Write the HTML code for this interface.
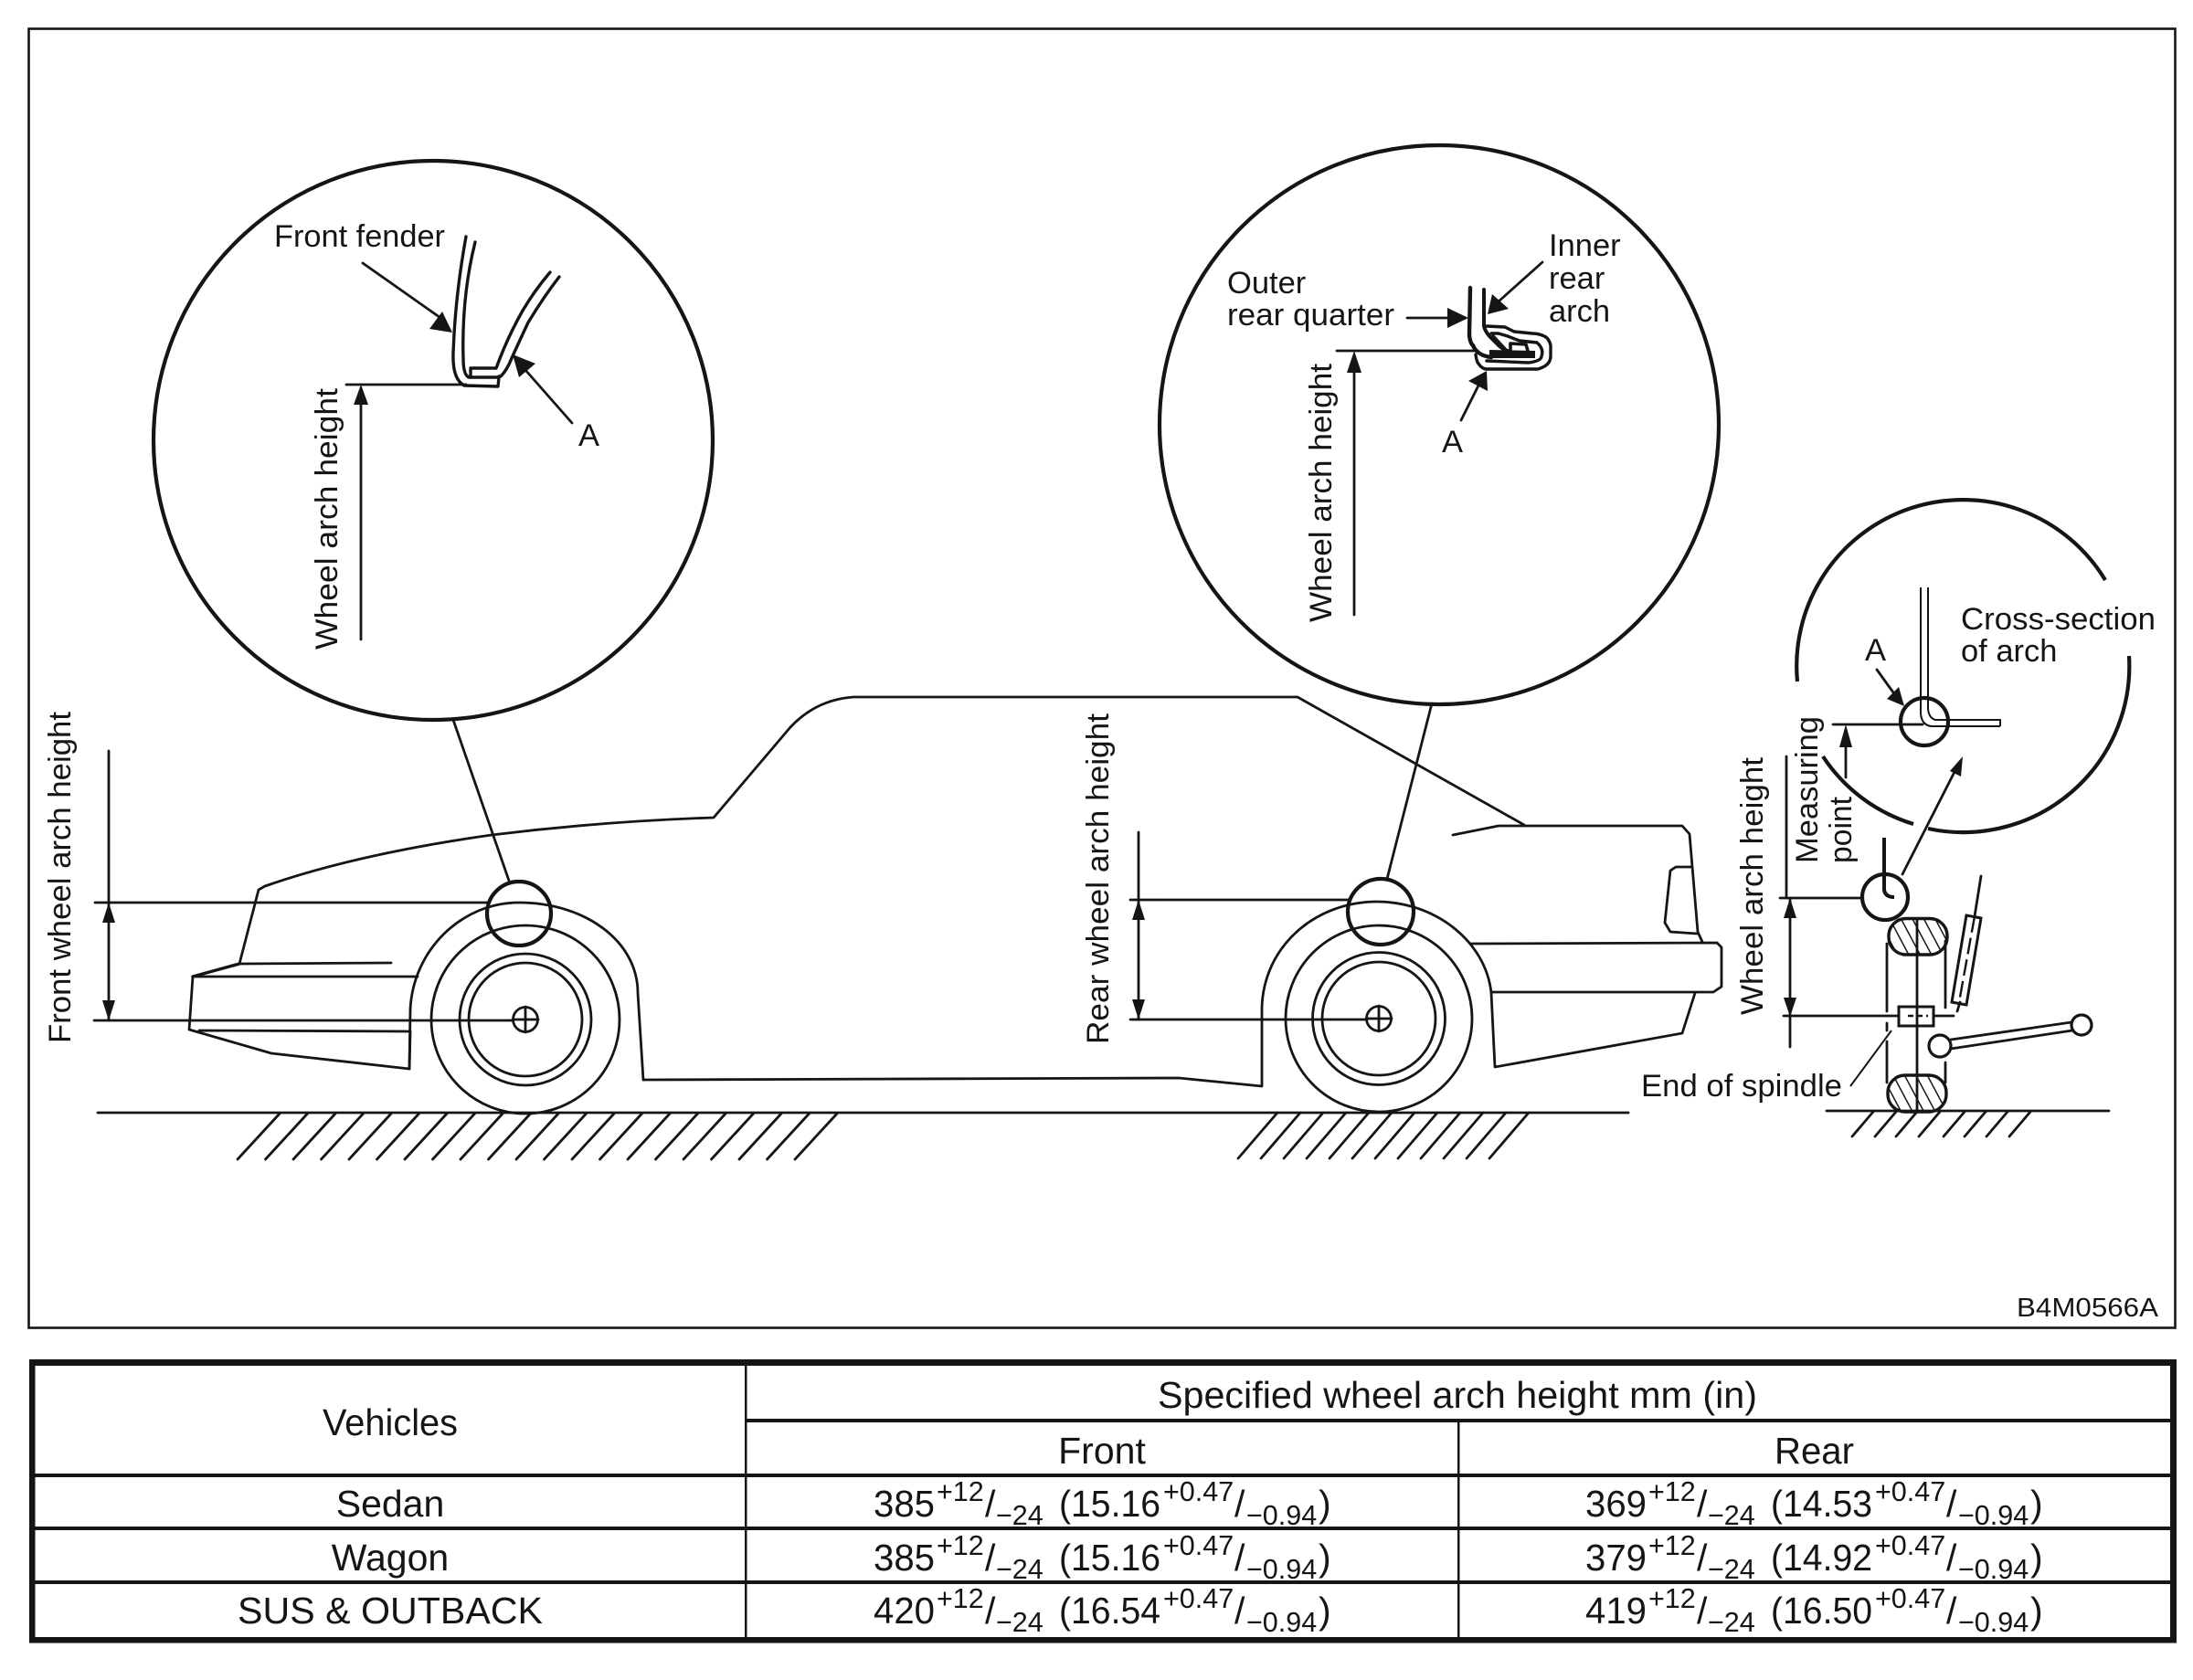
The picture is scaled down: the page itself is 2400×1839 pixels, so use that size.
<!DOCTYPE html>
<html>
<head>
<meta charset="utf-8">
<style>
html,body{margin:0;padding:0;background:#fff;}
svg{display:block;}
text{font-family:"Liberation Sans",sans-serif;fill:#151515;}
.l{fill:none;stroke:#151515;stroke-width:2.8;stroke-linecap:round;stroke-linejoin:round;}
.t{fill:none;stroke:#151515;stroke-width:2;}
.c{fill:none;stroke:#151515;stroke-width:4.2;}
.k{fill:none;stroke:#151515;stroke-width:3.4;stroke-linejoin:round;stroke-linecap:round;}
.f{fill:#151515;stroke:none;}
.m{font-size:41px;}
.s{font-size:30.5px;}
.g{font-size:34.5px;}
</style>
</head>
<body>
<svg width="2400" height="1839" viewBox="0 0 2400 1839" xmlns="http://www.w3.org/2000/svg">
<defs>
<pattern id="h" width="11" height="11" patternUnits="userSpaceOnUse" patternTransform="rotate(-28)">
<line x1="0" y1="0" x2="0" y2="11" stroke="#151515" stroke-width="3"/>
</pattern>
</defs>
<rect width="2400" height="1839" fill="#fff"/>
<rect x="31.5" y="31.5" width="2349" height="1422" fill="none" stroke="#151515" stroke-width="2.6"/>

<!-- big circles -->
<circle cx="474" cy="482" r="306" class="c"/>
<circle cx="1575" cy="465" r="306" class="c"/>
<!-- broken circle -->
<path class="c" d="M1967 746A182 182 0 0 1 2304 635"/>
<path class="c" d="M2330 718A182 182 0 0 1 2110 907"/>
<path class="c" d="M2094 902A182 182 0 0 1 1995 828"/>

<!-- ground -->
<line x1="107" y1="1218" x2="1782" y2="1218" class="l"/>
<path class="l" d="M260 1269l46-50m-15.5 50l46-50m-15.5 50l46-50m-15.5 50l46-50m-15.5 50l46-50m-15.5 50l46-50m-15.5 50l46-50m-15.5 50l46-50m-15.5 50l46-50m-15.5 50l46-50m-15.5 50l46-50m-15.5 50l46-50m-15.5 50l46-50m-15.5 50l46-50m-15.5 50l46-50m-15.5 50l46-50m-15.5 50l46-50m-15.5 50l46-50m-15.5 50l46-50m-15.5 50l46-50m-15.5 50l46-50"/>
<path class="l" d="M1355 1268l43-50m-18 50l43-50m-18 50l43-50m-18 50l43-50m-18 50l43-50m-18 50l43-50m-18 50l43-50m-18 50l43-50m-18 50l43-50m-18 50l43-50m-18 50l43-50m-18 50l43-50"/>

<!-- car body -->
<path class="l" d="M262 1055L283 974L290 970Q390 935 538 914Q660 899 781 895L865 796Q893 766 934 763L1420 763L1668 903"/>
<path class="l" d="M1590 914L1640 904L1841 904L1849 913L1858 1020L1863 1031"/>
<path class="l" d="M1851 949L1834 949L1828 953L1822 1010L1828 1020L1857 1022"/>
<path class="l" d="M1610 1033L1879 1032L1884 1037L1884 1080L1875 1086L1632 1086"/>
<path class="l" d="M1855 1087L1841 1131L1636 1168L1632 1087"/>
<path class="l" d="M704 1182L1290 1180L1381 1189L1381 1103C1383 1035 1440 987 1507 987C1570 987 1626 1030 1632 1087"/>
<path class="l" d="M211 1069L457 1069"/>
<path class="k" d="M211 1069L262 1055"/>
<path class="l" d="M262 1055L428 1054"/>
<path class="l" d="M211 1069L207 1127L297 1153L448 1170L449 1129L218 1128"/>
<path class="l" d="M448 1170L449 1105C452 1040 505 988 568 988C640 988 698 1030 698 1087L704 1182"/>

<!-- wheels -->
<g class="l">
<circle cx="575" cy="1116" r="103"/>
<circle cx="575" cy="1116" r="72"/>
<circle cx="575" cy="1116" r="62"/>
<circle cx="575" cy="1116" r="13.5"/>
<circle cx="1509" cy="1115" r="102"/>
<circle cx="1509" cy="1115" r="72.5"/>
<circle cx="1509" cy="1115" r="62"/>
<circle cx="1509" cy="1115" r="13.5"/>
</g>
<path class="l" d="M575 1102V1130M561 1116H589M1509 1101V1129M1495 1115H1523"/>
<circle cx="568" cy="1000" r="35" class="c"/>
<circle cx="1511" cy="998" r="36" class="c"/>
<line x1="496" y1="788" x2="557" y2="964" class="l"/>
<line x1="1567" y1="770" x2="1518" y2="962" class="l"/>

<!-- front dim -->
<line x1="104" y1="988" x2="534" y2="988" class="l"/>
<line x1="103" y1="1117" x2="561" y2="1117" class="l"/>
<line x1="119" y1="822" x2="119" y2="1117" class="l"/>
<path class="f" d="M119 988l-7 22h14zM119 1117l-7-22h14z"/>
<text class="g" transform="translate(77,1142) rotate(-90)" textLength="363" lengthAdjust="spacingAndGlyphs">Front wheel arch height</text>

<!-- rear dim -->
<line x1="1237" y1="985" x2="1477" y2="985" class="l"/>
<line x1="1237" y1="1116" x2="1496" y2="1116" class="l"/>
<line x1="1246" y1="911" x2="1246" y2="1116" class="l"/>
<path class="f" d="M1246 985l-7 22h14zM1246 1116l-7-22h14z"/>
<text class="g" transform="translate(1213,1143) rotate(-90)" textLength="362" lengthAdjust="spacingAndGlyphs">Rear wheel arch height</text>

<!-- circle 1 content -->
<text class="g" x="300" y="270" textLength="187" lengthAdjust="spacingAndGlyphs">Front fender</text>
<text class="g" x="633" y="488">A</text>
<text class="g" transform="translate(369,711) rotate(-90)" textLength="286" lengthAdjust="spacingAndGlyphs">Wheel arch height</text>
<line x1="379" y1="421" x2="510" y2="421" class="l"/>
<line x1="395" y1="700" x2="395" y2="425" class="l"/>
<path class="f" d="M395 421l-8 22h16z"/>
<path class="k" d="M510 259Q498 325 496 387Q495 415 508 422L545 423L546 413L513 413Q507 410 507 393Q505 325 520 265"/>
<path class="k" d="M515 413V403L543 403Q555 370 572 340Q585 318 602 298"/>
<path class="k" d="M546 412L548 412Q555 405 560 392Q570 370 578 353Q595 325 612 303"/>
<line x1="397" y1="288" x2="485" y2="350" class="l"/>
<path class="f" d="M495 364L484 341L470 360Z"/>
<line x1="626" y1="463" x2="575" y2="405" class="l"/>
<path class="f" d="M561 388L586 398L568 413Z"/>

<!-- circle 2 content -->
<text class="g" x="1343" y="321">Outer</text>
<text class="g" x="1343" y="356" textLength="183" lengthAdjust="spacingAndGlyphs">rear quarter</text>
<text class="g" x="1695" y="280">Inner</text>
<text class="g" x="1695" y="316">rear</text>
<text class="g" x="1695" y="352">arch</text>
<text class="g" x="1578" y="495">A</text>
<text class="g" transform="translate(1457,681) rotate(-90)" textLength="283" lengthAdjust="spacingAndGlyphs">Wheel arch height</text>
<line x1="1463" y1="384" x2="1613" y2="384" class="l"/>
<line x1="1482" y1="673" x2="1482" y2="390" class="l"/>
<path class="f" d="M1482 384l-8 24h16z"/>
<line x1="1540" y1="348" x2="1590" y2="348" class="l"/>
<path class="f" d="M1607 348l-23-11v22z"/>
<line x1="1688" y1="287" x2="1640" y2="330" class="l"/>
<path class="f" d="M1628 344L1633 322L1651 338Z"/>
<line x1="1599" y1="460" x2="1618" y2="422" class="l"/>
<path class="f" d="M1627 406L1607 417L1628 428Z"/>
<path class="k" style="stroke-width:4.4" d="M1609 315L1608 367Q1609 376 1612 378Q1614 383 1617 385Q1622 390 1632 391"/>
<path class="k" d="M1615 388Q1616 396 1618 398Q1622 404 1627 404L1683 404Q1697 400 1697 390L1697 378Q1695 370 1690 368Q1684 365 1677 365L1657 363L1647 358L1627 357"/>
<path class="k" style="stroke-width:4" d="M1624 317V357Q1625 362 1630 368L1640 378Q1644 382 1650 384"/>
<path class="k" d="M1627 395L1673 397Q1687 395 1687 390Q1690 382 1682 375L1663 373L1650 368L1640 365L1632 365"/>
<path class="f" d="M1630 383L1680 384L1680 392L1630 392Z"/>
<path class="k" style="stroke-width:3.6" d="M1634 368L1647 382M1653 383L1653 376L1670 377L1672 384"/>

<!-- right detail -->
<text class="g" x="2146" y="689" textLength="213" lengthAdjust="spacingAndGlyphs">Cross-section</text>
<text class="g" x="2146" y="724">of arch</text>
<text class="g" x="2041" y="723">A</text>
<text class="g" transform="translate(1989,945) rotate(-90)" textLength="161" lengthAdjust="spacingAndGlyphs">Measuring</text>
<text class="g" transform="translate(2026,945) rotate(-90)" textLength="73" lengthAdjust="spacingAndGlyphs">point</text>
<text class="g" transform="translate(1929,1111) rotate(-90)" textLength="282" lengthAdjust="spacingAndGlyphs">Wheel arch height</text>
<text class="g" x="1796" y="1200" textLength="220" lengthAdjust="spacingAndGlyphs">End of spindle</text>
<path class="t" d="M2102 643V781Q2103 794 2114 795L2189 795M2110 643V776Q2111 786 2118 788L2189 788L2189 795"/>
<circle cx="2106" cy="790" r="26" class="c"/>
<line x1="2006" y1="793" x2="2104" y2="793" class="l"/>
<line x1="2020" y1="851" x2="2020" y2="800" class="l"/>
<path class="f" d="M2020 793l-7 25h14z"/>
<line x1="2054" y1="733" x2="2072" y2="758" class="l"/>
<path class="f" d="M2084 773L2078 752L2065 765Z"/>
<line x1="1955" y1="828" x2="1955" y2="983" class="l"/>
<line x1="1948" y1="983" x2="2038" y2="983" class="l"/>
<line x1="1959" y1="985" x2="1959" y2="1146" class="l"/>
<path class="f" d="M1959 983l-7 22h14zM1959 1113l-7-21h14z"/>
<circle cx="2063" cy="982" r="25" style="fill:none;stroke:#151515;stroke-width:4.2"/>
<path d="M2062 917V974Q2063 982 2073 982" fill="none" stroke="#151515" stroke-width="4"/>
<line x1="2082" y1="957" x2="2140" y2="843" class="l"/>
<path class="f" d="M2148 828L2134 844L2146 850Z"/>

<!-- tyre & suspension -->
<line x1="1952" y1="1112" x2="2138" y2="1112" class="l"/>
<rect x="2078" y="1102" width="38" height="21" fill="#fff" stroke="#151515" stroke-width="3"/>
<line x1="2088" y1="1112" x2="2110" y2="1112" stroke="#151515" stroke-width="2.6" stroke-dasharray="6 4"/>
<rect x="2067" y="1005.5" width="64" height="39.5" rx="19" fill="url(#h)" stroke="#151515" stroke-width="3.4"/>
<rect x="2066" y="1177" width="64" height="40" rx="19" fill="url(#h)" stroke="#151515" stroke-width="3.4"/>
<line x1="2098" y1="1005" x2="2098" y2="1217" stroke="#151515" stroke-width="2.8"/>
<path class="l" d="M2065 1033V1107M2065 1120V1128M2065 1140V1185"/>
<path class="l" d="M2129 1030V1103M2129 1163V1185"/>
<path d="M2152 1002L2168 1005L2152 1100L2136 1097Z" fill="#fff" stroke="#151515" stroke-width="3"/>
<path class="l" d="M2168 959L2161 1003"/>
<line x1="2161" y1="1003" x2="2144" y2="1097" stroke="#151515" stroke-width="2.4" stroke-dasharray="18 6"/>
<line x1="2145" y1="1097" x2="2142" y2="1107" class="l"/>
<circle cx="2123" cy="1145" r="12" fill="#fff" stroke="#151515" stroke-width="3.2"/>
<circle cx="2278" cy="1122" r="11" fill="#fff" stroke="#151515" stroke-width="3.2"/>
<path class="l" d="M2135 1138L2267 1119M2135 1148L2268 1128"/>
<line x1="2025" y1="1189" x2="2070" y2="1128" class="t"/>
<line x1="1999" y1="1216" x2="2308" y2="1216" class="l"/>
<path class="l" d="M2027 1244L2050 1217M2052 1244L2075 1217M2075 1244L2098 1217M2100 1244L2123 1217M2127 1244L2150 1217M2150 1244L2173 1217M2174 1244L2197 1217M2199 1244L2222 1217"/>
<text x="2207" y="1441" font-size="29" textLength="155" lengthAdjust="spacingAndGlyphs">B4M0566A</text>

<!-- table -->
<g fill="#151515">
<rect x="32" y="1488" width="2350" height="7"/>
<rect x="32" y="1792" width="2350" height="6.5"/>
<rect x="32" y="1488" width="6.5" height="310"/>
<rect x="2375" y="1488" width="7" height="310"/>
<rect x="816" y="1553" width="1560" height="4"/>
<rect x="38" y="1613" width="2338" height="4"/>
<rect x="38" y="1671" width="2338" height="4"/>
<rect x="38" y="1730" width="2338" height="4"/>
<rect x="815" y="1495" width="2.5" height="298"/>
<rect x="1595" y="1555" width="2.5" height="238"/>
</g>
<g class="m">
<text x="353" y="1571" textLength="148" lengthAdjust="spacingAndGlyphs">Vehicles</text>
<text x="1267" y="1541" textLength="656" lengthAdjust="spacingAndGlyphs">Specified wheel arch height mm (in)</text>
<text x="1206" y="1602" text-anchor="middle">Front</text>
<text x="1942" y="1602" textLength="87" lengthAdjust="spacingAndGlyphs">Rear</text>
<text x="427" y="1660" text-anchor="middle">Sedan</text>
<text x="427" y="1719" text-anchor="middle">Wagon</text>
<text x="260" y="1777" textLength="334" lengthAdjust="spacingAndGlyphs">SUS &amp; OUTBACK</text>
</g>

<!-- row 1 front -->
<g>
<text class="m" x="956" y="1660" textLength="67" lengthAdjust="spacingAndGlyphs">385</text>
<text class="s" x="1025" y="1643">+12</text>
<text class="m" x="1078" y="1660">/</text>
<text class="s" x="1090" y="1669">−24</text>
<text class="m" x="1159" y="1660" textLength="111" lengthAdjust="spacingAndGlyphs">(15.16</text>
<text class="s" x="1273" y="1643">+0.47</text>
<text class="m" x="1351" y="1660">/</text>
<text class="s" x="1364" y="1669">−0.94</text>
<text class="m" x="1443" y="1660">)</text>
</g>
<!-- row 2 front -->
<g>
<text class="m" x="956" y="1719" textLength="67" lengthAdjust="spacingAndGlyphs">385</text>
<text class="s" x="1025" y="1702">+12</text>
<text class="m" x="1078" y="1719">/</text>
<text class="s" x="1090" y="1728">−24</text>
<text class="m" x="1159" y="1719" textLength="111" lengthAdjust="spacingAndGlyphs">(15.16</text>
<text class="s" x="1273" y="1702">+0.47</text>
<text class="m" x="1351" y="1719">/</text>
<text class="s" x="1364" y="1728">−0.94</text>
<text class="m" x="1443" y="1719">)</text>
</g>
<!-- row 3 front -->
<g>
<text class="m" x="956" y="1777" textLength="67" lengthAdjust="spacingAndGlyphs">420</text>
<text class="s" x="1025" y="1760">+12</text>
<text class="m" x="1078" y="1777">/</text>
<text class="s" x="1090" y="1786">−24</text>
<text class="m" x="1159" y="1777" textLength="111" lengthAdjust="spacingAndGlyphs">(16.54</text>
<text class="s" x="1273" y="1760">+0.47</text>
<text class="m" x="1351" y="1777">/</text>
<text class="s" x="1364" y="1786">−0.94</text>
<text class="m" x="1443" y="1777">)</text>
</g>
<!-- row 1 rear -->
<g transform="translate(779,0)">
<text class="m" x="956" y="1660" textLength="67" lengthAdjust="spacingAndGlyphs">369</text>
<text class="s" x="1025" y="1643">+12</text>
<text class="m" x="1078" y="1660">/</text>
<text class="s" x="1090" y="1669">−24</text>
<text class="m" x="1159" y="1660" textLength="111" lengthAdjust="spacingAndGlyphs">(14.53</text>
<text class="s" x="1273" y="1643">+0.47</text>
<text class="m" x="1351" y="1660">/</text>
<text class="s" x="1364" y="1669">−0.94</text>
<text class="m" x="1443" y="1660">)</text>
</g>
<!-- row 2 rear -->
<g transform="translate(779,0)">
<text class="m" x="956" y="1719" textLength="67" lengthAdjust="spacingAndGlyphs">379</text>
<text class="s" x="1025" y="1702">+12</text>
<text class="m" x="1078" y="1719">/</text>
<text class="s" x="1090" y="1728">−24</text>
<text class="m" x="1159" y="1719" textLength="111" lengthAdjust="spacingAndGlyphs">(14.92</text>
<text class="s" x="1273" y="1702">+0.47</text>
<text class="m" x="1351" y="1719">/</text>
<text class="s" x="1364" y="1728">−0.94</text>
<text class="m" x="1443" y="1719">)</text>
</g>
<!-- row 3 rear -->
<g transform="translate(779,0)">
<text class="m" x="956" y="1777" textLength="67" lengthAdjust="spacingAndGlyphs">419</text>
<text class="s" x="1025" y="1760">+12</text>
<text class="m" x="1078" y="1777">/</text>
<text class="s" x="1090" y="1786">−24</text>
<text class="m" x="1159" y="1777" textLength="111" lengthAdjust="spacingAndGlyphs">(16.50</text>
<text class="s" x="1273" y="1760">+0.47</text>
<text class="m" x="1351" y="1777">/</text>
<text class="s" x="1364" y="1786">−0.94</text>
<text class="m" x="1443" y="1777">)</text>
</g>
</svg>
</body>
</html>
